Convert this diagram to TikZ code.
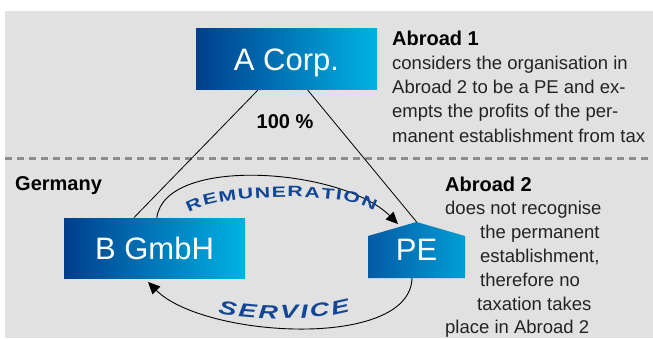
\documentclass[tikz,border=0pt]{standalone}
\usepackage{fontspec}
\setmainfont{Liberation Sans}
\newfontfamily\widefont[FakeStretch=1.42]{Liberation Sans}
\usetikzlibrary{arrows.meta,decorations.text}

\definecolor{bgGrey}{RGB}{225,225,225}
\definecolor{dashGrey}{RGB}{140,140,140}
\definecolor{boxDark}{RGB}{0,62,140}
\definecolor{boxLight}{RGB}{0,178,228}
\definecolor{peDark}{RGB}{5,90,165}
\definecolor{peLight}{RGB}{0,158,214}
\definecolor{flowBlue}{RGB}{18,70,150}
\definecolor{bodyText}{RGB}{35,35,35}

\begin{document}
\begin{tikzpicture}[x=1pt,y=1pt,
  corpbox/.style={left color=boxDark,right color=boxLight,
    minimum width=181pt,minimum height=61pt,inner sep=0pt,
    text=white,text depth=0pt,font=\fontsize{31}{31}\selectfont},
  link/.style={draw=black,line width=0.8pt},
  flow/.style={draw=black,line width=0.9pt,-{Triangle[length=12pt,width=11pt]}},
  heading/.style={inner sep=0pt,font=\bfseries\fontsize{20}{24}\selectfont},
  bodyline/.style={inner sep=0pt,anchor=base west,text=bodyText,
    font=\fontsize{18.5}{24}\selectfont}
]
\useasboundingbox (0,0) rectangle (653,338);

% grey panel and the border between the two countries
\fill[bgGrey] (5,0) rectangle (653,327);
\draw[dashGrey,line width=3pt,dash pattern=on 7pt off 5pt] (5,180) -- (653,180);

% companies
\node[corpbox] (acorp) at (286.5,278.5) {A Corp.};
\node[corpbox,minimum height=60pt] (bgmbh) at (154.5,90) {B GmbH};

% permanent establishment (house outline)
\shade[left color=peDark,right color=peLight]
  (368,60) -- (368,102) -- (416.5,116) -- (465,102) -- (465,60) -- cycle;
\node[inner sep=0pt,minimum width=97pt,minimum height=56pt,text=white,
  text depth=0pt,font=\fontsize{31}{31}\selectfont] (pe) at (416.5,88) {PE};

% shareholding
\draw[link] ([xshift=62pt]acorp.south west) -- ([xshift=70pt]bgmbh.north west);
\draw[link] ([xshift=112pt]acorp.south west) -- (pe.north);
\node[heading,anchor=base] (share) at (285,210) {100 \%};

% flows between B GmbH and the PE
\coordinate (remend) at (398,114);
\coordinate (servend) at (148,56);
\draw[flow] ([xshift=93pt]bgmbh.north west) .. controls (165,183) and (342,170) .. (remend);
\draw[flow] ([xshift=-4.5pt]pe.south) .. controls (410,-12) and (204,0) .. (servend);

\path[decorate,decoration={text along path,text align=fit to path,
  text={|\widefont\bfseries\fontsize{15}{15}\selectfont\color{flowBlue}|REMUNERATION}}]
  (189,125) .. controls (215,145) and (350,147) .. (374,127);
\path[decorate,decoration={text along path,text align=fit to path,
  text={|\widefont\bfseries\itshape\fontsize{19}{19}\selectfont\color{flowBlue}|SERVICE}}]
  (218,25) .. controls (255,17) and (315,17) .. (350,27);

% country labels and explanations
\node[heading,anchor=base west] (germany) at (15,148) {Germany};

\node[heading,anchor=base west] (abroad1) at (392,292) {Abroad 1};
\foreach \t [count=\i] in {considers the organisation in,
    Abroad 2 to be a PE and ex-,
    empts the profits of the per-,
    manent establishment from tax}
  \node[bodyline] (abroad1-\i) at (392,292-24*\i) {\t};

\node[heading,anchor=base west] (abroad2) at (445,147) {Abroad 2};
\foreach \dx/\t [count=\i] in {0/does not recognise,
    35/the permanent,
    35/{establishment,},
    35/therefore no,
    32/taxation takes,
    0/place in Abroad 2}
  \node[bodyline] (abroad2-\i) at (445+\dx,147-23.8*\i) {\t};
\end{tikzpicture}
\end{document}
